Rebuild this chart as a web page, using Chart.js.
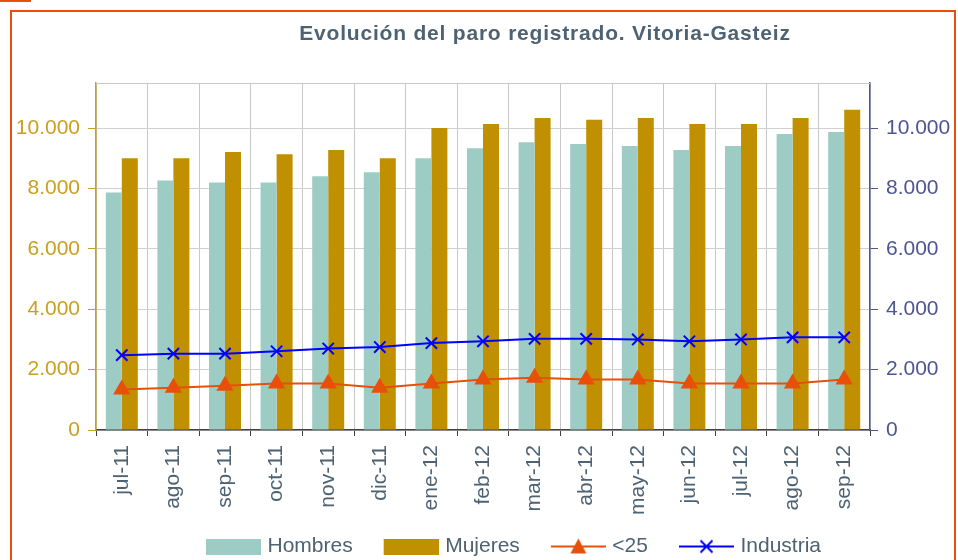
<!DOCTYPE html>
<html>
<head>
<meta charset="utf-8">
<script src="https://cdn.jsdelivr.net/npm/chart.js@4.4.0/dist/chart.umd.min.js"></script>
<style>
  html, body { margin: 0; padding: 0; background: #fff; overflow: hidden; }
  #wrap { position: relative; width: 958px; height: 560px; }
  #tab { position: absolute; left: 0; top: 0; width: 31px; height: 2px; background: #e8500a; }
  #frame { position: absolute; left: 10px; top: 10px; width: 942px; height: 600px; border: 2.5px solid #e8500a; }
  canvas { position: absolute; left: 0; top: 0; }
</style>
</head>
<body>
<div id="wrap">
  <div id="tab"></div>
  <div id="frame"></div>
  <canvas id="grafico" width="958" height="560"></canvas>
</div>
<script>
// datos
const meses = ["jul-11", "ago-11", "sep-11", "oct-11", "nov-11", "dic-11", "ene-12", "feb-12",
  "mar-12", "abr-12", "may-12", "jun-12", "jul-12", "ago-12", "sep-12"];
const hombres = [7870, 8270, 8200, 8200, 8410, 8540, 9010, 9340, 9540, 9480, 9410, 9280, 9410, 9810, 9880];
const mujeres = [9010, 9010, 9210, 9140, 9280, 9010, 10010, 10140, 10340, 10280, 10340, 10140, 10140, 10340, 10610];
const menores25 = [1340, 1400, 1470, 1540, 1540, 1400, 1540, 1670, 1730, 1670, 1670, 1540, 1540, 1540, 1670];
const industria = [2480, 2530, 2530, 2610, 2700, 2750, 2880, 2940, 3020, 3020, 3000, 2940, 3000, 3070, 3070];
const ticksY = [0, 2000, 4000, 6000, 8000, 10000];

const titulo = "Evolución del paro registrado. Vitoria-Gasteiz";
const colTexto = "#4d6272";
const colIzq = "#c9a020";
const colDer = "#4f5590";

// iconos de la leyenda (caja o linea con marcador), con hueco a la izquierda
const ANCHO_CAJA = 72;   // ancho reservado por chart.js
const ANCHO_IMG = 80;    // ancho real de la imagen (centrada en la caja)
const X0 = 25;           // inicio de la parte visible dentro de la imagen
function iconoCaja(color) {
  const c = document.createElement("canvas");
  c.width = ANCHO_IMG; c.height = 16;
  const g = c.getContext("2d");
  g.fillStyle = color;
  g.fillRect(X0, 0, 55, 16);
  return c;
}
function iconoLinea(color, marca) {
  const c = document.createElement("canvas");
  c.width = ANCHO_IMG; c.height = 20;
  const g = c.getContext("2d");
  g.strokeStyle = color;
  g.fillStyle = color;
  g.lineWidth = 2;
  g.beginPath(); g.moveTo(X0, 10); g.lineTo(X0 + 55, 10); g.stroke();
  const m = X0 + 27.5;
  if (marca === "tri") {
    g.beginPath(); g.moveTo(m, 2); g.lineTo(m + 8, 17); g.lineTo(m - 8, 17); g.closePath(); g.fill();
  } else {
    g.beginPath();
    g.moveTo(m - 6, 4); g.lineTo(m + 6, 16);
    g.moveTo(m + 6, 4); g.lineTo(m - 6, 16);
    g.stroke();
  }
  return c;
}
const iconos = [iconoCaja("#9dccc5"), iconoCaja("#c09000"), iconoLinea("#e8500a", "tri"), iconoLinea("#0000ff", "x")];

// titulo, borde superior del area y desplazamiento de la leyenda
const extras = {
  id: "extras",
  afterLayout(chart) {
    chart.legend.left += 48;
  },
  beforeDatasetsDraw(chart) {
    const a = chart.chartArea, ctx = chart.ctx;
    ctx.save();
    ctx.strokeStyle = "#c8c8c8";
    ctx.lineWidth = 1;
    ctx.beginPath(); ctx.moveTo(a.left, a.top + 0.5); ctx.lineTo(a.right, a.top + 0.5); ctx.stroke();
    ctx.restore();
  },
  afterDraw(chart) {
    const ctx = chart.ctx;
    ctx.save();
    ctx.font = "bold 21px 'Liberation Sans', Arial, sans-serif";
    ctx.letterSpacing = "0.8px";
    ctx.fillStyle = colTexto;
    ctx.textAlign = "center";
    ctx.textBaseline = "alphabetic";
    ctx.fillText(titulo, 545, 40);
    ctx.restore();
  }
};

const ctx = document.getElementById("grafico").getContext("2d");
Chart.defaults.font.family = "'Liberation Sans', Arial, sans-serif";

new Chart(ctx, {
  type: "bar",
  data: {
    labels: meses,
    datasets: [
      { label: "Hombres", data: hombres, backgroundColor: "#9dccc5", order: 2,
        barPercentage: 1, categoryPercentage: 0.62 },
      { label: "Mujeres", data: mujeres, backgroundColor: "#c09000", order: 2,
        barPercentage: 1, categoryPercentage: 0.62 },
      { type: "line", label: "<25", data: menores25, yAxisID: "y2", order: 1,
        borderColor: "#e8500a", backgroundColor: "#e8500a", borderWidth: 2,
        pointStyle: "triangle", pointRadius: 8, pointHoverRadius: 8, tension: 0 },
      { type: "line", label: "Industria", data: industria, yAxisID: "y2", order: 0,
        borderColor: "#0000ff", backgroundColor: "#0000ff", borderWidth: 2,
        pointStyle: "crossRot", pointRadius: 8, pointHoverRadius: 8, pointBorderWidth: 2, tension: 0 }
    ]
  },
  plugins: [extras],
  options: {
    responsive: false,
    animation: false,
    layout: { padding: { top: 83, left: 0, right: 0, bottom: -7 } },
    plugins: {
      tooltip: { enabled: false },
      legend: {
        position: "bottom",
        labels: {
          usePointStyle: true,
          pointStyleWidth: ANCHO_CAJA,
          padding: 10,
          color: colTexto,
          font: { size: 21 },
          sort: (a, b) => a.datasetIndex - b.datasetIndex,
          generateLabels(chart) {
            const lista = Chart.defaults.plugins.legend.labels.generateLabels(chart);
            lista.forEach(it => { it.pointStyle = iconos[it.datasetIndex]; });
            return lista;
          }
        }
      }
    },
    scales: {
      x: {
        offset: true,
        grid: { offset: true, color: "#c8c8c8", tickColor: "#404040", tickLength: 6 },
        border: { color: "#404040", width: 1.5 },
        ticks: { color: colTexto, font: { size: 21 }, minRotation: 90, maxRotation: 90, padding: 9, autoSkip: false },
        afterFit(s) { s.height = 96; }
      },
      y: {
        position: "left",
        min: 0, max: 11500,
        afterBuildTicks(s) { s.ticks = ticksY.map(v => ({ value: v })); },
        grid: { color: "#d0d0d0", tickColor: colIzq, tickLength: 8 },
        border: { color: colIzq, width: 1.5 },
        ticks: { color: colIzq, font: { size: 21 }, padding: 8,
          callback: v => v.toLocaleString("de-DE") },
        afterFit(s) { s.width = 96; }
      },
      y2: {
        position: "right",
        min: 0, max: 11500,
        afterBuildTicks(s) { s.ticks = ticksY.map(v => ({ value: v })); },
        grid: { drawOnChartArea: false, tickColor: colDer, tickLength: 8 },
        border: { color: colDer, width: 1.5 },
        ticks: { color: colDer, font: { size: 21 }, padding: 8,
          callback: v => v.toLocaleString("de-DE") },
        afterFit(s) { s.width = 88; }
      }
    }
  }
});
</script>
</body>
</html>
